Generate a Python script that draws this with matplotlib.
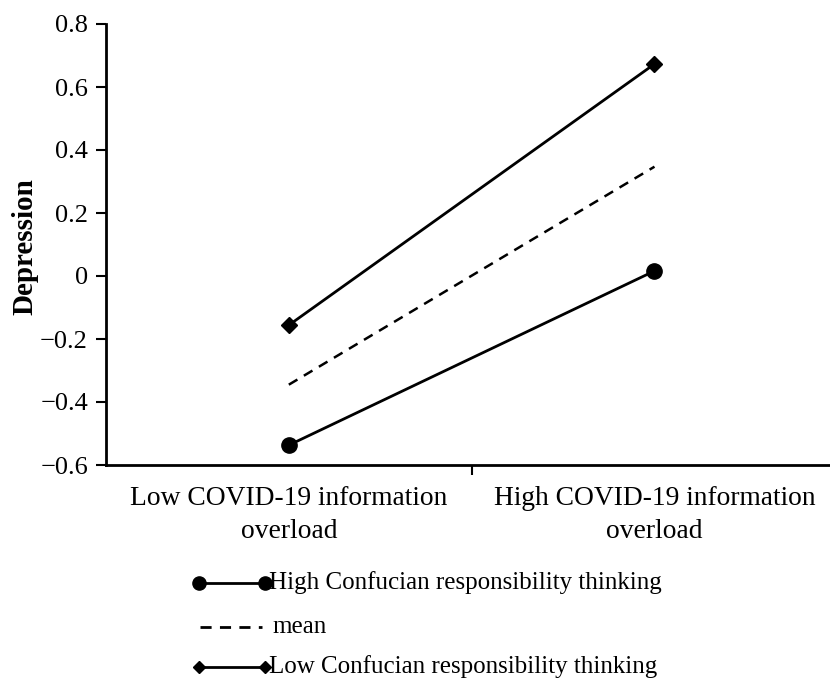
import matplotlib.pyplot as plt
from matplotlib.lines import Line2D

categories = ["Low COVID-19 information\noverload", "High COVID-19 information\noverload"]
high_crt = [-0.537, 0.016]
mean_vals = [-0.345, 0.347]
low_crt = [-0.156, 0.673]
yticks = [-0.6, -0.4, -0.2, 0, 0.2, 0.4, 0.6, 0.8]
ytick_labels = ["\u22120.6", "\u22120.4", "\u22120.2", "0", "0.2", "0.4", "0.6", "0.8"]

plt.rcParams["font.family"] = ["Liberation Serif", "DejaVu Serif"]

fig = plt.figure(figsize=(8.3, 6.82), dpi=100)
ax = fig.add_axes([106 / 830, 1 - 465 / 682, 724 / 830, 441 / 682])

x = [0, 1]
ax.plot(x, high_crt, color="black", lw=2, marker="o", ms=11, clip_on=False)
ax.plot(x, mean_vals, color="black", lw=1.8, ls=(0, (4, 3)))
ax.plot(x, low_crt, color="black", lw=2, marker="D", ms=8, clip_on=False)

ax.set_xlim(-0.5, 1.48)
ax.set_ylim(-0.6, 0.8)
ax.set_yticks(yticks)
ax.set_yticklabels(ytick_labels, fontsize=19)
ax.set_xticks([0.5])
ax.set_xticklabels([])
for xi, lab in zip(x, categories):
    ax.text(xi, -0.668, lab, ha="center", va="top", fontsize=19.8,
            linespacing=1.42, transform=ax.transData)

fig.text(25 / 830, 1 - 247 / 682, "Depression", rotation=90, fontsize=21,
         fontweight="bold", ha="center", va="center")
ax.spines["top"].set_visible(False)
ax.spines["right"].set_visible(False)
ax.spines["left"].set_linewidth(2)
ax.spines["bottom"].set_linewidth(2)
ax.tick_params(axis="y", direction="out", length=7, width=1.5, pad=6)
ax.tick_params(axis="x", direction="out", length=7, width=1.5)

# legend below the plot, markers on both ends
legend_items = [
    ("High Confucian responsibility thinking", "-", "o", 9.5, 583),
    ("mean", (0, (4, 3)), None, 0, 627),
    ("Low Confucian responsibility thinking", "-", "D", 6.5, 667),
]
for label, ls, mk, ms, ypix in legend_items:
    yf = 1 - ypix / 682
    x0, x1 = 199 / 830, 265 / 830
    if mk is None:
        x0 = 200 / 830
        x1 = 262 / 830
    fig.add_artist(Line2D([x0, x1], [yf, yf], color="black", lw=2, ls=ls,
                          marker=mk, ms=ms, transform=fig.transFigure))
    tx = 269 / 830 if mk is not None else 272 / 830
    fig.text(tx, yf, label, fontsize=18, va="center", ha="left")

fig.savefig("out.png", dpi=100)
